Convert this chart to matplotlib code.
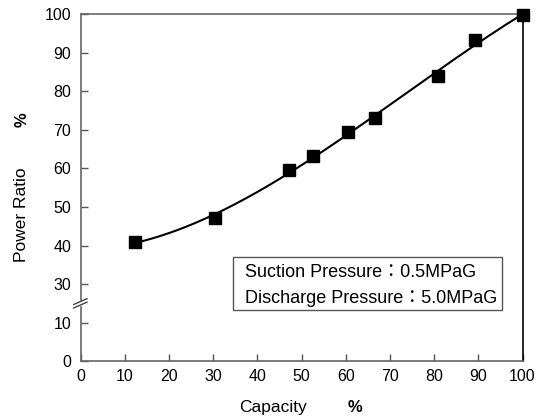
import numpy as np
import matplotlib.pyplot as plt
from matplotlib.patches import Rectangle

plt.rcParams['font.family'] = ['Liberation Sans', 'DejaVu Sans']

capacity = [12.3, 30.3, 47.1, 52.6, 60.6, 66.7, 80.8, 89.3, 100.0]
power_ratio = [40.9, 47.2, 59.6, 63.1, 69.5, 73.0, 84.1, 93.4, 99.7]

x_ticks = [0, 10, 20, 30, 40, 50, 60, 70, 80, 90, 100]
y_tick_labels = [0, 10, 30, 40, 50, 60, 70, 80, 90, 100]


def to_axis(v):
    # broken y axis: 10..30 is squeezed out
    v = np.asarray(v, dtype=float)
    return np.where(v >= 30, v - 10, v)


fig = plt.figure(figsize=(5.46, 4.18), dpi=100)
ax = fig.add_axes([0.148, 0.136, 0.809, 0.830])

# smooth trend curve through the measurements
coef = np.polyfit(capacity, power_ratio, 3)
xs = np.linspace(min(capacity), max(capacity), 200)
ax.plot(xs, to_axis(np.polyval(coef, xs)), color='black', linewidth=1.5, zorder=3)
ax.plot(capacity, to_axis(power_ratio), 's', color='black', markersize=8.5,
        clip_on=False, zorder=4)

ax.set_xlim(0, 100)
ax.set_ylim(0, 90)
ax.set_xticks(x_ticks)
ax.set_yticks(to_axis(y_tick_labels))
ax.set_yticklabels([str(t) for t in y_tick_labels])
ax.tick_params(direction='in', length=5, width=1, color='#555555',
               labelsize=11.5)
ax.tick_params(axis='y', pad=7)
ax.tick_params(axis='x', pad=6)

for side in ['left', 'bottom', 'top']:
    ax.spines[side].set_color('#666666')
    ax.spines[side].set_linewidth(1.2)
ax.spines['right'].set_color('black')
ax.spines['right'].set_linewidth(1.2)

# break marks on the y axis
yb = 15
ax.fill_between([-0.6, 0.6], yb - 0.5, yb + 0.5, color='white',
                clip_on=False, zorder=5)
for dy in (-0.45, 0.45):
    ax.plot([-1.6, 1.4], [yb + dy - 0.75, yb + dy + 0.75], color='#444444',
            linewidth=1, clip_on=False, zorder=6)

# axis labels
fig.text(0.040, 0.487, 'Power Ratio', rotation=90, ha='center', va='center',
         fontsize=12.5)
fig.text(0.040, 0.715, '%', rotation=90, ha='center', va='center',
         fontsize=12, fontweight='bold')
fig.text(0.500, 0.026, 'Capacity', ha='center', va='center', fontsize=12.5)
fig.text(0.650, 0.026, '%', ha='center', va='center', fontsize=12,
         fontweight='bold')

# conditions box
fig.patches.append(Rectangle((0.426, 0.258), 0.493, 0.128,
                             transform=fig.transFigure, facecolor='white',
                             edgecolor='#555555', linewidth=1, zorder=7))
cond_font = ['Liberation Sans', 'Noto Sans CJK JP']
fig.text(0.449, 0.347, 'Suction Pressure\uff1a0.5MPaG', fontsize=13,
         va='center', ha='left', family=cond_font, zorder=8)
fig.text(0.449, 0.287, 'Discharge Pressure\uff1a5.0MPaG', fontsize=13,
         va='center', ha='left', family=cond_font, zorder=8)

fig.savefig('out.png', dpi=100)
